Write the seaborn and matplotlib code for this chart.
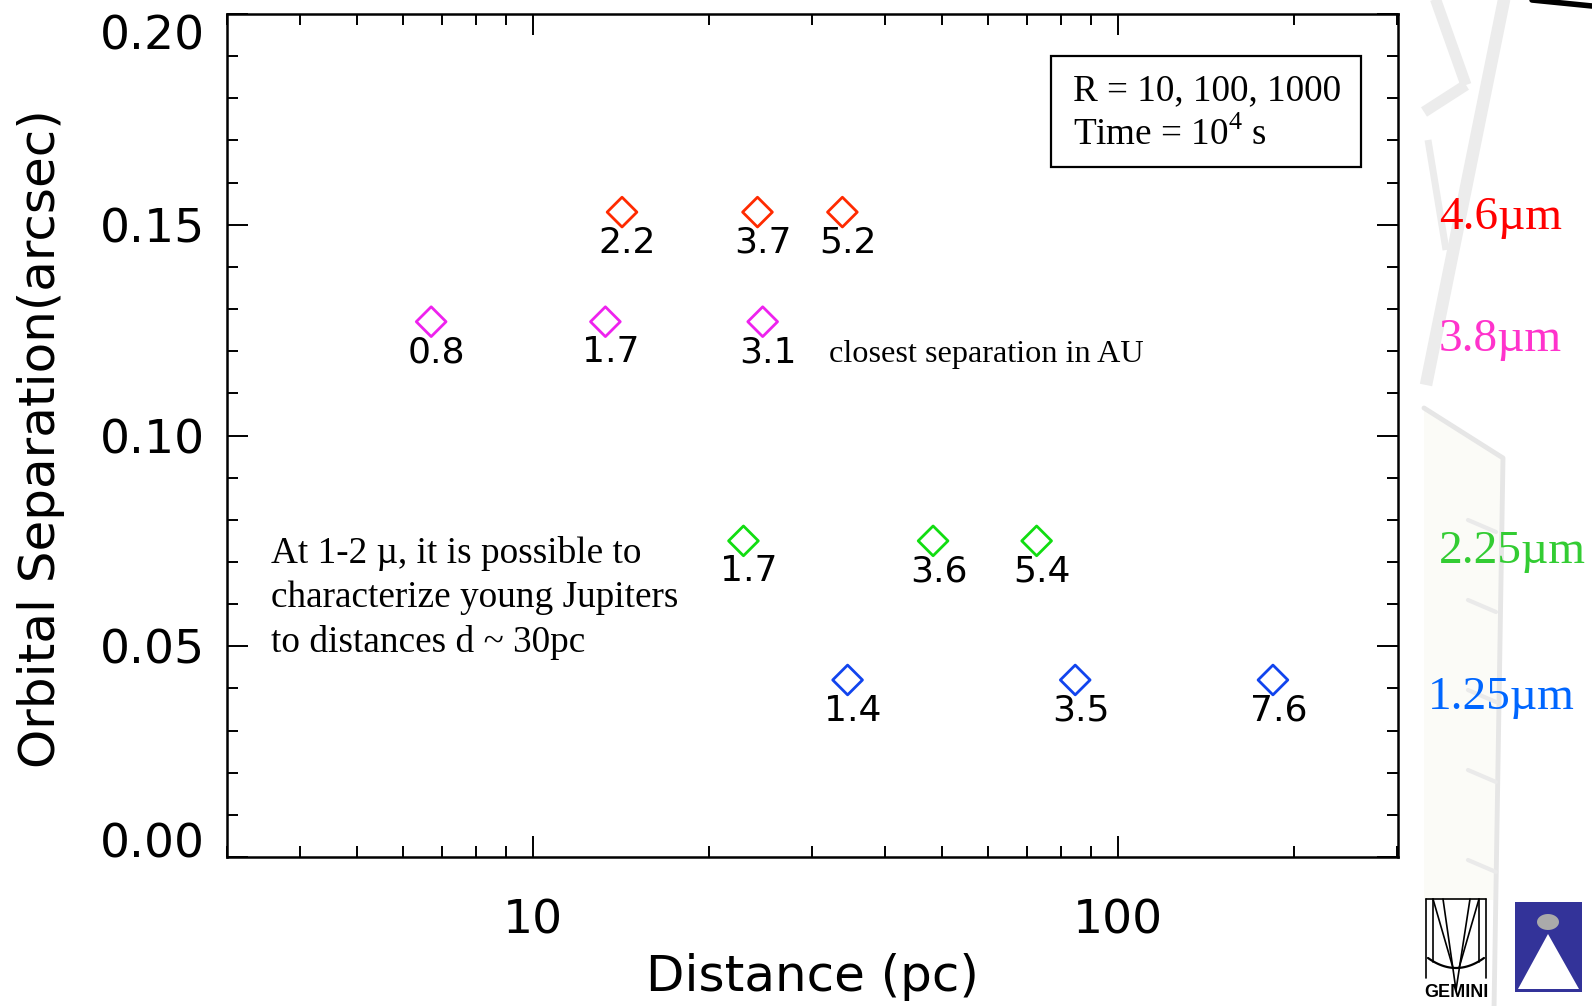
import numpy as np
import pandas as pd
import matplotlib
matplotlib.use("Agg")
import matplotlib.pyplot as plt
import matplotlib.ticker as mticker
from matplotlib.lines import Line2D
from matplotlib.patches import Rectangle, Polygon
import seaborn as sns

# ---- data -------------------------------------------------------------
bands = ["4.6µm", "3.8µm", "2.25µm", "1.25µm"]
separation_arcsec = [0.153, 0.127, 0.075, 0.042]
distance_pc = {
    "4.6µm": [14.2, 24.2, 33.8],
    "3.8µm": [6.7, 13.3, 24.7],
    "2.25µm": [22.9, 48.3, 72.6],
    "1.25µm": [34.5, 84.5, 184.0],
}
closest_au = {
    "4.6µm": ["2.2", "3.7", "5.2"],
    "3.8µm": ["0.8", "1.7", "3.1"],
    "2.25µm": ["1.7", "3.6", "5.4"],
    "1.25µm": ["1.4", "3.5", "7.6"],
}
x_ticks = [10, 100]
x_ticklabels = ["10", "100"]
y_ticks = [0.00, 0.05, 0.10, 0.15, 0.20]
marker_colors = ["#ff2a00", "#ee22ee", "#11dd11", "#1144ee"]
band_text_colors = ["#ff0000", "#ff33cc", "#33cc33", "#0066ff"]
note_lines = ["At 1-2 µ, it is possible to",
              "characterize young Jupiters",
              "to distances d ~ 30pc"]
box_lines = ["R = 10, 100, 1000", "Time = 10$^{\\mathrm{4}}$ s"]

rows = []
for band, sep in zip(bands, separation_arcsec):
    for d, au in zip(distance_pc[band], closest_au[band]):
        rows.append({"band": band, "distance": d, "separation": sep, "au": au})
df = pd.DataFrame(rows)

# ---- style ------------------------------------------------------------
sns.set_theme(style="ticks")
plt.rcParams["font.family"] = ["DejaVu Sans"]
plt.rcParams.update({
    "text.color": "black", "axes.labelcolor": "black",
    "xtick.color": "black", "ytick.color": "black",
    "mathtext.fontset": "custom", "mathtext.rm": "Liberation Serif",
})
serif = ["Liberation Serif", "DejaVu Serif"]

W, H = 1592, 1006
fig = plt.figure(figsize=(W / 100, H / 100), dpi=100)
fig.patch.set_facecolor("white")


def P(x, y):
    """pixel position (from top-left) to figure fraction"""
    return x / W, 1 - y / H


def fig_line(points, **kw):
    xs, ys = zip(*[P(*p) for p in points])
    fig.add_artist(Line2D(xs, ys, transform=fig.transFigure, **kw))


# ---- faint telescope truss on the right margin ------------------------
truss = "#ececec"
for seg, lw in [
    ([(1505, -5), (1426, 385)], 9),
    ([(1434, -5), (1466, 85)], 8),
    ([(1466, 85), (1424, 112)], 8),
    ([(1428, 140), (1446, 250)], 5),
]:
    fig_line(seg, color=truss, lw=lw, solid_capstyle="butt", zorder=0)
fig.add_artist(Polygon([P(1424, 410), P(1502, 458), P(1494, 900), P(1424, 900)],
                       closed=True, transform=fig.transFigure,
                       facecolor="#fbfbf7", edgecolor="none", zorder=0))
fig_line([(1424, 408), (1503, 458), (1494, 1010)], color="#e6e6e6", lw=3.5,
         zorder=0)
for yy in [520, 600, 690, 770, 860]:
    fig_line([(1468, yy), (1496, yy + 12)], color="#eaeaea", lw=3, zorder=0)
fig_line([(1532, 0), (1592, 6)], color="black", lw=4, zorder=1)

# ---- main axes --------------------------------------------------------
ax = fig.add_axes([227 / W, 1 - 857 / H, (1398 - 227) / W, (857 - 14) / H])
ax.set_facecolor("white")

palette = dict(zip(bands, marker_colors))
sns.scatterplot(data=df, x="distance", y="separation", hue="band",
                palette=palette, marker="D", s=230, linewidth=2.0,
                legend=False, ax=ax, zorder=3)
pts = ax.collections[0]
pts.set_edgecolors(pts.get_facecolors())
pts.set_facecolors("none")

for _, r in df.iterrows():
    ax.annotate(r["au"], (r["distance"], r["separation"]),
                xytext=(4, -22), textcoords="offset points",
                ha="center", va="center", fontsize=26, color="black", zorder=4)

ax.set_xscale("log")
ax.set_xlim(3.0, 301)
ax.set_ylim(0.0, 0.20)
ax.xaxis.set_major_locator(mticker.FixedLocator(x_ticks))
ax.xaxis.set_major_formatter(mticker.FixedFormatter(x_ticklabels))
ax.xaxis.set_minor_locator(mticker.LogLocator(base=10, subs=np.arange(2, 10)))
ax.xaxis.set_minor_formatter(mticker.NullFormatter())
ax.yaxis.set_major_locator(mticker.FixedLocator(y_ticks))
ax.yaxis.set_minor_locator(mticker.MultipleLocator(0.01))
ax.yaxis.set_major_formatter(mticker.FormatStrFormatter("%.2f"))

for s in ax.spines.values():
    s.set_linewidth(1.8)
    s.set_color("black")
ax.tick_params(which="both", direction="in", top=True, right=True,
               color="black", width=1.4)
ax.tick_params(which="major", length=15)
ax.tick_params(which="minor", length=8)
ax.tick_params(axis="y", which="major", labelsize=34, pad=16)
ax.tick_params(axis="x", which="major", labelsize=34, pad=30)

# keep the end labels of the y axis inside the frame height
fig.canvas.draw()
for tick in ax.yaxis.get_major_ticks():
    txt = tick.label1.get_text()
    if txt == "0.20":
        tick.label1.set_va("top")
    elif txt == "0.00":
        tick.label1.set_va("baseline")

ax.set_xlabel("Distance (pc)", fontsize=36)
ax.set_ylabel("Orbital Separation(arcsec)", fontsize=36)
ax.xaxis.set_label_coords(0.5, -0.1425)
ax.xaxis.label.set_va("center")
ax.yaxis.set_label_coords(-0.159, 0.496)
ax.yaxis.label.set_va("center")

# ---- annotations ------------------------------------------------------
ax.add_patch(Rectangle((0.7037, 0.8185), 0.9684 - 0.7037, 0.950 - 0.8185,
                       transform=ax.transAxes, fill=False, lw=1.6,
                       edgecolor="black", zorder=5))
for txt, yy in zip(box_lines, [0.9087, 0.8565]):
    ax.text(0.7225, yy, txt, transform=ax.transAxes, fontsize=26.7,
            family=serif, ha="left", va="center", zorder=6)

ax.text(0.5137, 0.5955, "closest separation in AU", transform=ax.transAxes,
        fontsize=23.2, family=serif, ha="left", va="center")

for txt, yy in zip(note_lines, [0.3595, 0.3078, 0.2548]):
    ax.text(0.0376, yy, txt, transform=ax.transAxes, fontsize=26.8,
            family=serif, ha="left", va="center")

for band, col, xx, yy in zip(bands, band_text_colors,
                             [1.035, 1.035, 1.035, 1.0256],
                             [0.7450, 0.6002, 0.3488, 0.1756]):
    ax.text(xx, yy, band, transform=ax.transAxes, fontsize=34, color=col,
            family=serif, ha="left", va="baseline", clip_on=False)

# ---- logos ------------------------------------------------------------
for seg in [
    [(1426, 899), (1426, 978)],
    [(1486, 899), (1486, 978)],
    [(1426, 899), (1486, 899)],
    [(1433, 899), (1453, 968)],
    [(1479, 899), (1459, 968)],
    [(1443, 899), (1456, 990)],
    [(1470, 899), (1456, 990)],
    [(1433, 899), (1433, 962)],
    [(1479, 899), (1479, 962)],
]:
    fig_line(seg, color="black", lw=1.2, zorder=2)
arc_x = np.linspace(1428, 1484, 30)
arc_y = 958 + 10 * (1 - ((arc_x - 1456) / 28) ** 2)
fig_line(list(zip(arc_x, arc_y)), color="black", lw=1.6, zorder=2)
fig.text(*P(1456, 984), "GEMINI", fontsize=13, fontweight="bold",
         family=["Liberation Sans Narrow", "Liberation Sans", "DejaVu Sans"],
         ha="center", va="top")

fig.add_artist(Rectangle(P(1515, 992), 67 / W, 90 / H, transform=fig.transFigure,
                         facecolor="#333399", edgecolor="none", zorder=2))
fig.add_artist(Polygon([P(1518, 989), P(1548, 934), P(1579, 989)], closed=True,
                       transform=fig.transFigure, facecolor="white",
                       edgecolor="none", zorder=3))
fig.add_artist(Polygon([P(1548 + 11 * np.cos(t), 922 + 8 * np.sin(t))
                        for t in np.linspace(0, 2 * np.pi, 40)], closed=True,
                       transform=fig.transFigure, facecolor="#aaaaaa",
                       edgecolor="none", zorder=3))

fig.savefig("out.png", dpi=100, facecolor="white")
